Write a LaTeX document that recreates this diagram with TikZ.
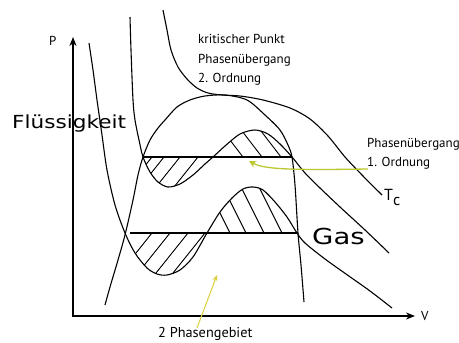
\documentclass[tikz,border=0pt]{standalone}
\usepackage{fontspec}
\setmainfont{PT Sans}
\newfontfamily\bigfont{DejaVu Sans}
\usetikzlibrary{arrows.meta}
\definecolor{arrowgreen}{RGB}{187,199,48}
\definecolor{arrowyellow}{RGB}{216,207,58}
\def\pathA{plot[smooth] coordinates {(89,43) (93,70) (97,100) (102,135) (107,170) (115,205) (125,233) (135,253) (147,268) (157,274) (167,275) (180,270) (193,257) (207,233) (220,212) (232,198) (243,189) (253,187) (263,190) (275,202) (287,217) (297,233) (305,243) (325,259) (346,274) (370,291) (392,308)}}
\def\pathB{plot[smooth] coordinates {(130,17) (131,50) (133,100) (135,120) (139,140) (143,157) (150,172) (158,182) (168,187) (180,184) (193,175) (205,164) (213,157) (225,146) (240,134) (255,130) (268,134) (280,144) (292,157) (305,173) (320,188) (340,207) (365,230) (389,253)}}
\def\pathDome{plot[smooth] coordinates {(105,305) (110,287) (118,260) (125,235) (133,200) (138,175) (143,157) (150,140) (158,128) (165,120) (177,107) (190,100) (205,96) (225,95) (247,100) (265,115) (280,130) (288,145) (292,157) (295,185) (298,233) (301,265) (304,302)}}
\def\pathCrit{plot[smooth] coordinates {(163,10) (167,30) (171,50) (178,67) (187,79) (197,88) (208,93) (222,95) (240,96) (263,100) (290,108) (310,119) (328,136) (345,157) (362,175) (382,195)}}
\begin{document}
\begin{tikzpicture}[x=1pt,y=-1pt,
  curve/.style={line width=1.1pt},
  tie/.style={line width=1.25pt},
  hatch/.style={line width=0.9pt},
  lbl/.style={inner sep=0pt, anchor=base west, font=\fontsize{13}{15}\selectfont},
  big/.style={inner sep=0pt, anchor=base west, font=\bigfont\fontsize{18}{20}\selectfont},
  yarrow/.style={line width=1.3pt, -{Stealth[length=7pt,width=7pt,inset=2pt]}}
]
\useasboundingbox (0,0) rectangle (459,343);
% axes
\coordinate (O) at (73,316);
\coordinate (ytip) at (73,37);
\coordinate (xtip) at (415,316);
\draw[line width=1.6pt, {Stealth[length=9pt,width=7pt]}-{Stealth[length=9pt,width=7pt]}] (ytip) -- (O) -- (xtip);
% curves
\draw[curve] \pathA;
\draw[curve] \pathB;
\draw[curve] \pathDome;
\draw[curve] \pathCrit;
% tie lines
\coordinate (t1a) at (143,157); \coordinate (t1b) at (292,157);
\coordinate (t2a) at (130,233); \coordinate (t2b) at (298,233);
\draw[tie] (t1a) -- (t1b);
\draw[tie] (t2a) -- (t2b);
% hatching: upper left lobe
\begin{scope}
  \clip (140,157) rectangle (215,205);
  \clip \pathB -- (389,0) -- (130,0) -- cycle;
  \foreach \t in {152,164,180,198} \draw[hatch] (\t+16,137) -- (\t-32,197);
\end{scope}
% upper right lobe
\begin{scope}
  \clip (213,115) rectangle (295,157);
  \clip \pathB -- (389,343) -- (130,343) -- cycle;
  \foreach \b in {243,262,281} \draw[hatch] (\b+10,170) -- (\b-35,111.5);
\end{scope}
% lower left lobe
\begin{scope}
  \clip (125,233) rectangle (210,300);
  \clip \pathA -- (392,0) -- (89,0) -- cycle;
  \foreach \t in {152,170,188,205} \draw[hatch] (\t+20,208) -- (\t-40,283);
\end{scope}
% lower right lobe
\begin{scope}
  \clip (205,150) rectangle (300,233);
  \clip \pathA -- (392,343) -- (89,343) -- cycle;
  \foreach \b in {230,246,264,282} \draw[hatch] (\b+10,253) -- (\b-40,153);
\end{scope}
% labels
\node[lbl] (kp1) at (198,43) {kritischer Punkt};
\node[lbl] (kp2) at (198,63) {Phasenübergang};
\node[lbl] (kp3) at (198,82) {2. Ordnung};
\node[lbl] (pu1) at (367,147) {Phasenübergang};
\node[lbl] (pu2) at (367,166) {1. Ordnung};
\node[lbl, font=\fontsize{16}{18}\selectfont] (tc) at (384,200) {T\raisebox{-5pt}{c}};
\node[big] (fl) at (12,128) {\scalebox{1.2}[1]{Flüssigkeit}};
\node[big, font=\bigfont\fontsize{22}{24}\selectfont] (gas) at (312,244) {\scalebox{1.25}[1]{Gas}};
\node[lbl, font=\fontsize{14.3}{16}\selectfont] (pg) at (158,337) {2 Phasengebiet};
\node[lbl] (P) at (49,45) {P};
\node[lbl] (V) at (421,320) {V};
% yellow arrows
\coordinate (a1s) at (368,169);
\coordinate (a1t) at (249,161);
\draw[yarrow, arrowgreen] (a1s) .. controls (300,170) and (265,170) .. (a1t);
\coordinate (a2s) at (197,328);
\coordinate (a2t) at (217,275);
\draw[line width=1pt, arrowyellow, -{Stealth[length=6pt,width=5pt]}] (a2s) -- (a2t);
\end{tikzpicture}
\end{document}
